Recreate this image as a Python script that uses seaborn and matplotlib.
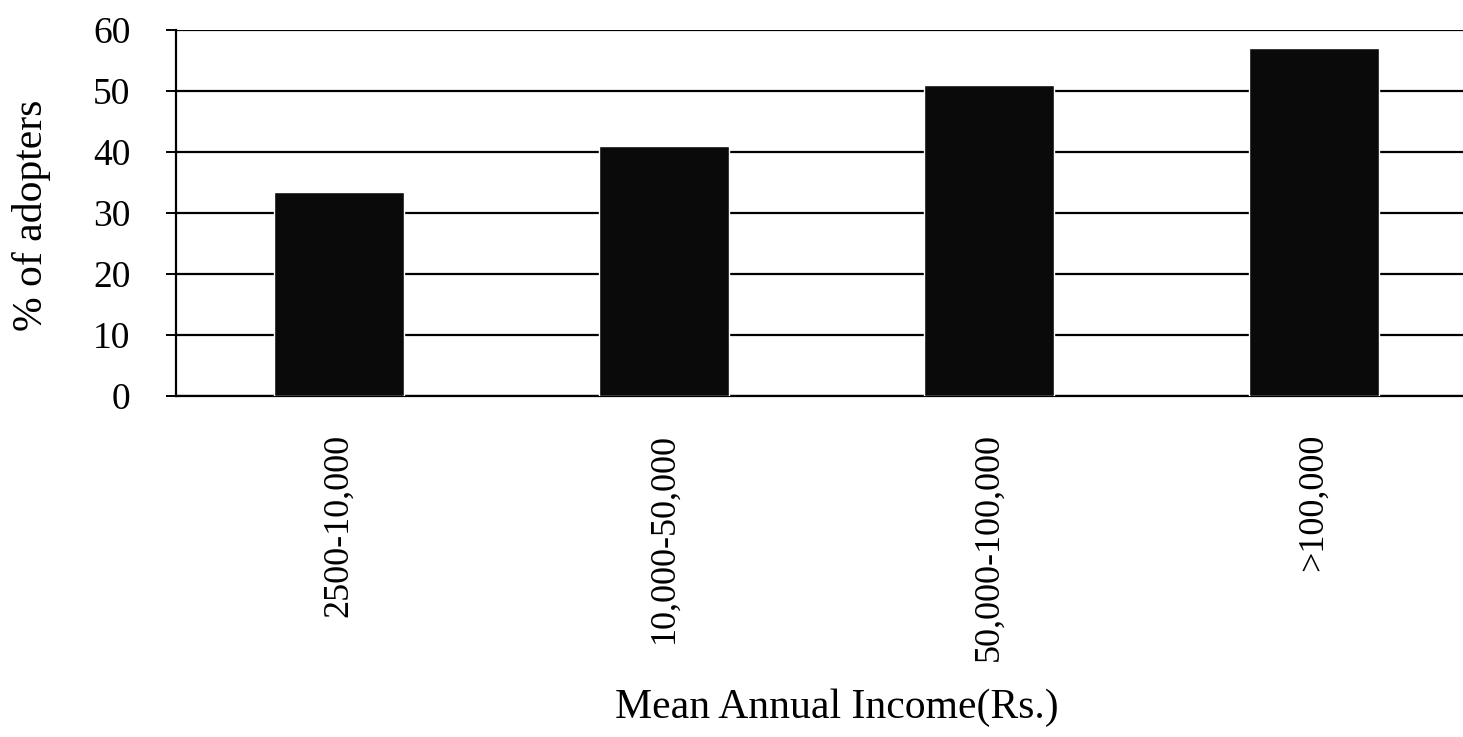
import numpy as np
import pandas as pd
import seaborn as sns
import matplotlib.pyplot as plt

# income groups and share of adopters (%)
income_groups = ["2500-10,000", "10,000-50,000", "50,000-100,000", ">100,000"]
adopters_pct = [33.5, 41, 51, 57]
y_ticks = [0, 10, 20, 30, 40, 50, 60]

df = pd.DataFrame({"income": income_groups, "pct": adopters_pct})

sns.set_theme(style="white")
plt.rcParams['font.family'] = ['Liberation Serif', 'DejaVu Serif']

fig = plt.figure(figsize=(14.63, 7.37), dpi=100)
ax = fig.add_axes([0.1205, 0.4627, 0.8795, 0.4966])

sns.barplot(data=df, x="income", y="pct", color="#0a0a0a", width=0.4,
            saturation=1, ax=ax, zorder=3)

ax.set_ylim(0, 60)
ax.set_xlim(-0.5, 3.46)
ax.set_yticks(y_ticks)
ax.yaxis.grid(True, color="black", linewidth=1.6, zorder=0)
ax.set_axisbelow(True)

for s in ["top", "right"]:
    ax.spines[s].set_visible(False)
for s in ["left", "bottom"]:
    ax.spines[s].set_color("black")
    ax.spines[s].set_linewidth(1.6)

ax.tick_params(axis="y", which="major", left=True, length=7, width=1.4,
               color="black", labelsize=27, pad=26, labelcolor="black")
ax.tick_params(axis="x", bottom=False, labelsize=26, pad=21, labelcolor="black")
plt.setp(ax.get_xticklabels(), rotation=90)

ax.set_ylabel("% of adopters", fontsize=30, color="black")
ax.yaxis.set_label_coords(-0.097, 0.495)
ax.set_xlabel("Mean Annual Income(Rs.)", fontsize=30, color="black")
ax.xaxis.set_label_coords(0.513, -0.80)

fig.savefig("out.png", dpi=100)
